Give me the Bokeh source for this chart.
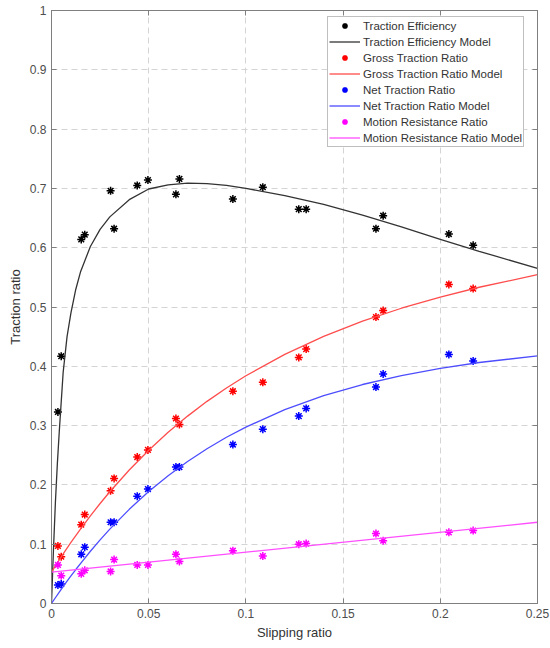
from bokeh.plotting import figure
from bokeh.models import Range1d, LinearAxis, FixedTicker, Legend, LegendItem
from bokeh.embed import file_html
from bokeh.resources import INLINE

slip = [0.0033, 0.0050, 0.0153, 0.0171, 0.0304, 0.0322, 0.0441, 0.0496, 0.0640,
        0.0658, 0.0933, 0.1087, 0.1272, 0.1310, 0.1669, 0.1706, 0.2044, 0.2169]
traction_eff = [0.323, 0.417, 0.614, 0.622, 0.696, 0.632, 0.705, 0.714, 0.690,
                0.716, 0.682, 0.702, 0.665, 0.665, 0.632, 0.654, 0.623, 0.604]
gross_tr = [0.097, 0.079, 0.133, 0.150, 0.190, 0.211, 0.247, 0.259, 0.312,
            0.302, 0.358, 0.373, 0.415, 0.429, 0.483, 0.494, 0.538, 0.531]
net_tr = [0.031, 0.033, 0.083, 0.095, 0.137, 0.137, 0.181, 0.193, 0.230,
          0.230, 0.268, 0.294, 0.316, 0.329, 0.365, 0.387, 0.420, 0.409]
motion_res = [0.065, 0.047, 0.050, 0.056, 0.054, 0.074, 0.065, 0.065, 0.083,
              0.071, 0.089, 0.080, 0.100, 0.101, 0.118, 0.106, 0.120, 0.123]

# ---- model curves ----
te_model_s = [0, 0.001, 0.002, 0.003, 0.004, 0.006, 0.008, 0.01, 0.0125, 0.015, 0.02,
              0.025, 0.03, 0.04, 0.05, 0.06, 0.07, 0.08, 0.09, 0.1, 0.12, 0.14, 0.16,
              0.18, 0.2, 0.22, 0.25]
te_model = [0, 0.09, 0.17, 0.235, 0.29, 0.39, 0.45, 0.49, 0.53, 0.56, 0.602,
            0.631, 0.652, 0.681, 0.699, 0.706, 0.709, 0.708, 0.705, 0.700, 0.688, 0.673, 0.655,
            0.635, 0.614, 0.594, 0.565]
model_s = [0, 0.002, 0.004, 0.006, 0.008, 0.01, 0.0125, 0.015, 0.02, 0.025, 0.03, 0.04,
           0.05, 0.06, 0.07, 0.08, 0.09, 0.1, 0.12, 0.14, 0.16, 0.18, 0.2, 0.22, 0.25]
gross_model = [0.053, 0.0634, 0.0735, 0.0835, 0.0933, 0.1029, 0.1145, 0.1258, 0.1478, 0.1686,
               0.1885, 0.2252, 0.2585, 0.2887, 0.3160, 0.3409, 0.3635, 0.3841, 0.4202, 0.4504,
               0.4761, 0.4979, 0.5168, 0.5333, 0.5545]
net_model = [0, 0.0097, 0.0192, 0.0285, 0.0376, 0.0465, 0.0573, 0.0678, 0.0881, 0.1072,
             0.1254, 0.1588, 0.1887, 0.2155, 0.2395, 0.2610, 0.2803, 0.2975, 0.3269, 0.3504,
             0.3693, 0.3844, 0.3966, 0.4064, 0.4175]
mr_model_s = [0, 0.25]
mr_model = [0.053, 0.137]

x_ticks = [0, 0.05, 0.1, 0.15, 0.2, 0.25]
x_tick_labels = ["0", "0.05", "0.1", "0.15", "0.2", "0.25"]
y_ticks = [0, 0.1, 0.2, 0.3, 0.4, 0.5, 0.6, 0.7, 0.8, 0.9, 1.0]
y_tick_labels = ["0", "0.1", "0.2", "0.3", "0.4", "0.5", "0.6", "0.7", "0.8", "0.9", "1"]

FONT = "Liberation Sans"
FRAME = "#7f7f7f"
TICKTXT = "#4d4d4d"

p = figure(width=550, height=648, output_backend="svg", toolbar_location=None,
           x_range=Range1d(0, 0.25), y_range=Range1d(0, 1),
           min_border_left=51, min_border_right=13, min_border_top=10,
           min_border_bottom=45)
p.background_fill_color = "white"
p.border_fill_color = "white"
p.outline_line_color = FRAME
p.outline_line_width = 1

xa = p.below[0]
ya = p.left[0]
xa.ticker = FixedTicker(ticks=x_ticks)
ya.ticker = FixedTicker(ticks=y_ticks)
xa.major_label_overrides = {t: l for t, l in zip(x_ticks, x_tick_labels)}
ya.major_label_overrides = {t: l for t, l in zip(y_ticks, y_tick_labels)}

top = LinearAxis(ticker=FixedTicker(ticks=x_ticks),
                 major_label_overrides={t: "" for t in x_ticks}, major_label_standoff=0)
right = LinearAxis(ticker=FixedTicker(ticks=y_ticks),
                   major_label_overrides={t: "" for t in y_ticks}, major_label_standoff=0)
p.add_layout(top, "above")
p.add_layout(right, "right")

for ax in [xa, ya, top, right]:
    ax.axis_line_color = FRAME
    ax.major_tick_line_color = FRAME
    ax.major_tick_in = 5
    ax.major_tick_out = 0
    ax.minor_tick_line_color = None
    ax.major_label_text_font = FONT
    ax.major_label_text_color = TICKTXT
for ax in [xa, ya]:
    ax.major_label_text_font_size = "12px"
    ax.major_label_standoff = 5
    ax.axis_label_text_font = FONT
    ax.axis_label_text_font_size = "13px"
    ax.axis_label_text_font_style = "normal"
    ax.axis_label_text_color = "#333333"
    ax.axis_label_standoff = 4
xa.axis_label = "Slipping ratio"
ya.axis_label = "Traction ratio"

for g in [p.xgrid[0], p.ygrid[0]]:
    g.grid_line_color = "#d4d4d4"
    g.grid_line_dash = "6 4"
    g.grid_line_width = 1
p.xgrid[0].ticker = FixedTicker(ticks=x_ticks)
p.ygrid[0].ticker = FixedTicker(ticks=y_ticks)

MS = 8
LW = 1.5
r_te = p.scatter(slip, traction_eff, marker="asterisk", size=MS, line_color="black", line_width=LW)
l_te = p.line(te_model_s, te_model, line_color="#333333", line_width=1.3)
r_gt = p.scatter(slip, gross_tr, marker="asterisk", size=MS, line_color="#ff0000", line_width=LW)
l_gt = p.line(model_s, gross_model, line_color="#ff4d4d", line_width=1.3)
r_nt = p.scatter(slip, net_tr, marker="asterisk", size=MS, line_color="#0000ff", line_width=LW)
l_nt = p.line(model_s, net_model, line_color="#4d4dff", line_width=1.3)
r_mr = p.scatter(slip, motion_res, marker="asterisk", size=MS, line_color="#ff00ff", line_width=LW)
l_mr = p.line(mr_model_s, mr_model, line_color="#ff4dff", line_width=1.3)

legend = Legend(items=[
    LegendItem(label="Traction Efficiency", renderers=[r_te]),
    LegendItem(label="Traction Efficiency Model", renderers=[l_te]),
    LegendItem(label="Gross Traction Ratio", renderers=[r_gt]),
    LegendItem(label="Gross Traction Ratio Model", renderers=[l_gt]),
    LegendItem(label="Net Traction Ratio", renderers=[r_nt]),
    LegendItem(label="Net Traction Ratio Model", renderers=[l_nt]),
    LegendItem(label="Motion Resistance Ratio", renderers=[r_mr]),
    LegendItem(label="Motion Resistance Ratio Model", renderers=[l_mr]),
], location=(276, 456))
legend.margin = 0
legend.padding = 1
legend.spacing = 1
legend.glyph_height = 15
legend.label_height = 15
legend.glyph_width = 31
legend.label_standoff = 3
legend.label_text_font = FONT
legend.label_text_font_size = "11.5px"
legend.label_text_color = "#333333"
legend.border_line_color = FRAME
legend.border_line_width = 1
legend.background_fill_color = "white"
legend.background_fill_alpha = 1
p.add_layout(legend)

open("out.html", "w").write(file_html(p, INLINE))
